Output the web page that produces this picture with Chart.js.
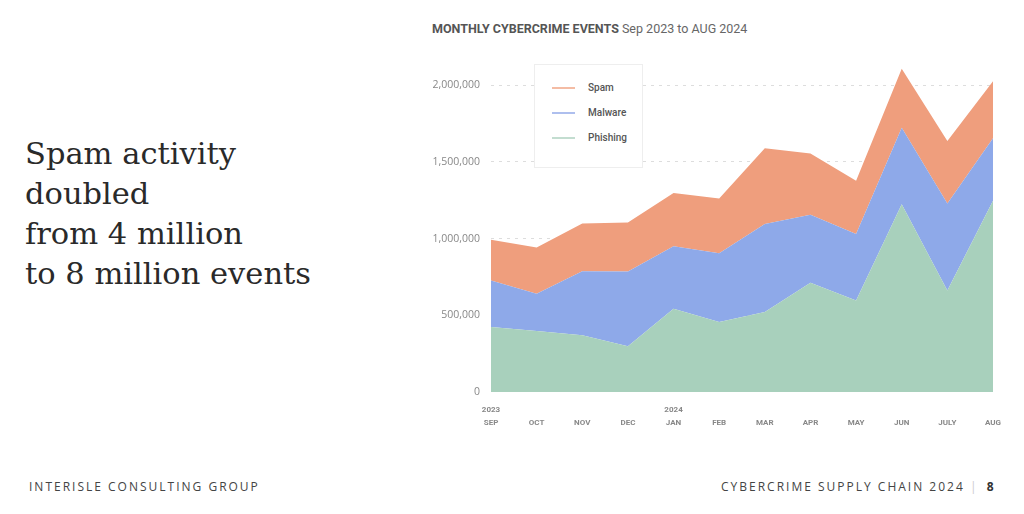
<!DOCTYPE html>
<html>
<head>
<meta charset="utf-8">
<script src="https://cdn.jsdelivr.net/npm/chart.js@4.4.1/dist/chart.umd.min.js"></script>
<style>
  html, body { margin:0; padding:0; background:#fff; }
  body { width:1024px; height:514px; position:relative; overflow:hidden; }
  #headline { position:absolute; left:25px; top:134px; font-family:"DejaVu Serif", serif; font-size:30.5px; line-height:40px; color:#2a2a2a; }
  #title { position:absolute; left:432px; top:21px; font-family:Roboto, sans-serif; font-size:12.5px; color:#666; white-space:nowrap; }
  #title b { color:#555; font-weight:700; }
  #wrap { position:absolute; left:420px; top:45px; width:604px; height:395px; }
  #legend { position:absolute; left:534px; top:64px; width:107px; height:102px; border:1px solid #eee; background:#fff; font-family:Roboto, sans-serif; font-size:10px; font-weight:500; color:#555; }
  .li { position:absolute; left:0; height:14px; }
  .li span.sw { position:absolute; left:17px; top:6px; width:23px; height:1.5px; }
  .li span.tx { position:absolute; left:53px; top:0; line-height:14px; white-space:nowrap; }
  .foot { position:absolute; top:478px; font-family:"Open Sans", sans-serif; font-size:12px; letter-spacing:2px; color:#444; white-space:nowrap; }
</style>
</head>
<body>
<div id="headline">Spam activity<br>doubled<br>from 4 million<br>to 8 million events</div>
<div id="title"><b>MONTHLY CYBERCRIME EVENTS</b> Sep 2023 to AUG 2024</div>
<div id="wrap"><canvas id="c"></canvas></div>
<div id="legend"></div>
<div class="foot" style="left:29px;">INTERISLE CONSULTING GROUP</div>
<div class="foot" style="left:721px;">CYBERCRIME SUPPLY CHAIN 2024 <span style="color:#ccc;letter-spacing:0">|</span>&nbsp; <b style="color:#333">8</b></div>
<script>
const months = ['SEP','OCT','NOV','DEC','JAN','FEB','MAR','APR','MAY','JUN','JULY','AUG'];
const years = ['2023','','','','2024','','','','','','',''];
const phishing = [424000,398000,370000,299000,543000,457000,522000,712000,597000,1225000,662000,1247000];
const malware = [303000,243000,418000,487000,407000,448000,573000,444000,433000,498000,567000,407000];
const spam = [266000,302000,311000,320000,347000,357000,494000,400000,347000,385000,407000,372000];
const yTicks = [0,500000,1000000,1500000,2000000];
const seriesNames = ['Phishing','Malware','Spam'];
const fillColors = ['#a8d0bc','#8ea9e9','#ef9e7d'];
const legendColors = ['#c3ddd0','#aebfee','#f4bca4'];

const labels = months.map((m,i) => [years[i], m]);

// HTML legend (Spam, Malware, Phishing top to bottom)
const legend = document.getElementById('legend');
[2,1,0].forEach((idx, row) => {
  const d = document.createElement('div');
  d.className = 'li';
  d.style.top = (16 + row*25) + 'px';
  d.innerHTML = '<span class="sw" style="background:'+legendColors[idx]+'"></span><span class="tx">'+seriesNames[idx]+'</span>';
  legend.appendChild(d);
});

const series = [phishing, malware, spam];
new Chart(document.getElementById('c'), {
  type: 'line',
  data: {
    labels: labels,
    datasets: series.map((s,i) => ({
      label: seriesNames[i],
      data: s,
      backgroundColor: fillColors[i],
      borderColor: fillColors[i],
      borderWidth: 0,
      pointRadius: 0,
      tension: 0,
      fill: i === 0 ? 'origin' : '-1'
    }))
  },
  options: {
    responsive: true,
    maintainAspectRatio: false,
    animation: false,
    layout: { padding: { top: 6, right: 31, left: 0, bottom: 0 } },
    plugins: { legend: { display: false }, tooltip: { enabled: false } },
    scales: {
      x: {
        offset: false,
        grid: { display: false, drawTicks: false },
        border: { display: false },
        ticks: {
          maxRotation: 0,
          autoSkip: false,
          padding: 11,
          color: '#888',
          font: { family: 'Roboto', size: 8, weight: 'bold', lineHeight: 1.65 }
        },
        afterFit: (s) => { s.height = 48; }
      },
      y: {
        stacked: true,
        min: 0,
        max: 2150000,
        afterBuildTicks: (axis) => { axis.ticks = yTicks.map(v => ({ value: v })); },
        grid: {
          drawTicks: false,
          color: (ctx) => ctx.tick && ctx.tick.value === 0 ? 'rgba(0,0,0,0)' : '#dddddd',
          lineWidth: 1
        },
        border: { display: false, dash: [3,5] },
        ticks: {
          padding: 11,
          color: '#888',
          font: { family: 'Open Sans', size: 10.5 },
          callback: (v) => v.toLocaleString('en-US')
        },
        afterFit: (s) => { s.width = 71; }
      }
    }
  }
});
</script>
</body>
</html>
